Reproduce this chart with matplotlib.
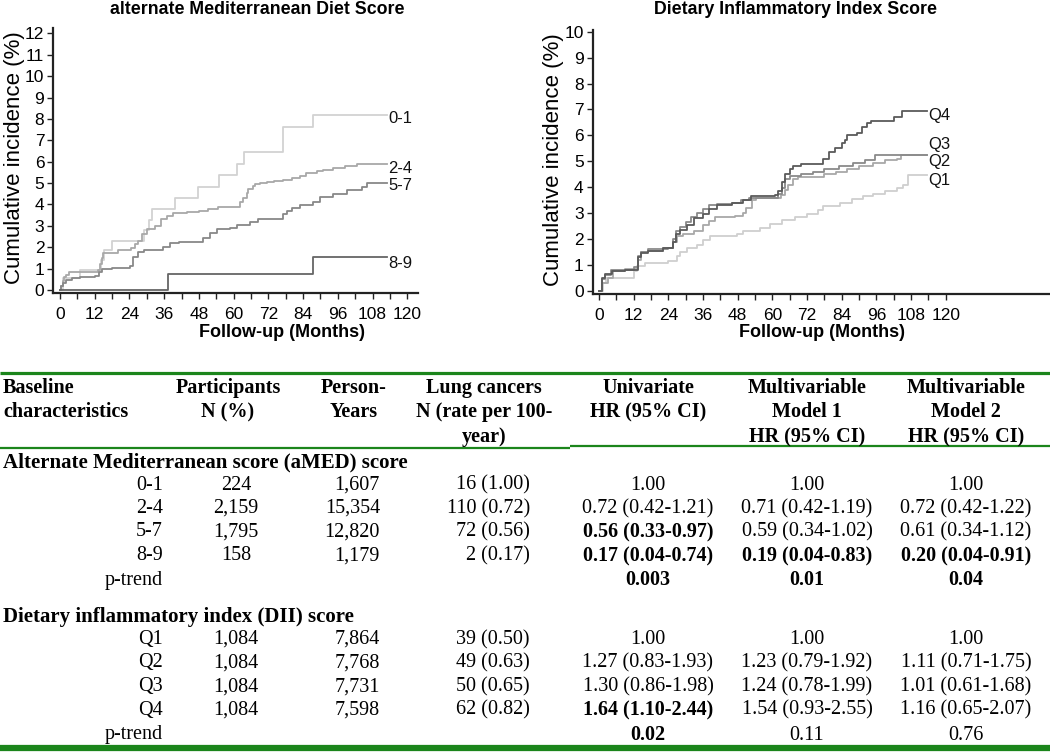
import matplotlib
matplotlib.use('Agg')
import matplotlib.pyplot as plt
from matplotlib.lines import Line2D
from matplotlib.ticker import FixedLocator

# ---------------- data: cumulative incidence curves ----------------
amed_groups = ['0-1', '2-4', '5-7', '8-9']
t_amed_01 = [0, 1, 6.9, 14.2, 15.2, 17.9, 29.1, 30.8, 31.9, 39.7, 47.6, 54.9, 61.2, 63.7, 76.9, 87.3]
v_amed_01 = [0, 0.55, 0.93, 1.4, 1.87, 2.3, 2.8, 3.27, 3.77, 4.29, 4.83, 5.36, 5.89, 6.45, 7.6, 8.18]
t_amed_24 = [0, 0.5, 1, 1.5, 2, 3, 13, 14, 14.5, 15, 20, 24.5, 26, 27, 28.5, 30, 33, 35, 37, 39, 44, 48,
             51, 54.7, 62.2, 63.3, 64.5, 65.1, 66.8, 67.4, 69.1, 71.4, 74, 77.2, 80, 82.9, 85, 88.7, 91,
             94.4, 98.5, 102.5]
v_amed_24 = [0, 0.2, 0.4, 0.6, 0.7, 0.85, 0.95, 1.2, 1.5, 1.75, 1.85, 1.95, 2.15, 2.3, 2.6, 2.85, 3.0,
             3.3, 3.45, 3.6, 3.65, 3.7, 3.8, 3.9, 4.1, 4.3, 4.55, 4.7, 4.85, 4.95, 5.0, 5.05, 5.1, 5.14,
             5.25, 5.35, 5.45, 5.55, 5.6, 5.7, 5.8, 5.9]
t_amed_57 = [0, 0.5, 1, 2, 4, 7, 12, 13.5, 14.5, 18, 24.2, 25.4, 27.1, 29, 35.7, 38, 41, 49.5, 51.8,
             54.1, 58.7, 61, 65.6, 68.5, 77.2, 78.5, 80.1, 82.9, 87.5, 89.8, 94.4, 99.1, 104.2, 106]
v_amed_57 = [0, 0.2, 0.35, 0.45, 0.55, 0.6, 0.65, 0.85, 1.0, 1.05, 1.1, 1.56, 1.8, 1.87, 2.02, 2.18,
             2.25, 2.42, 2.65, 2.84, 2.92, 3.04, 3.2, 3.33, 3.55, 3.7, 3.82, 3.97, 4.13, 4.36, 4.5, 4.66,
             4.83, 5.02]
t_amed_89 = [0, 37.2, 87.5]
v_amed_89 = [0, 0.75, 1.56]
amed_end = 113.0

dii_groups = ['Q1', 'Q2', 'Q3', 'Q4']
t_dii_q1 = [0, 1.5, 2.5, 12, 13, 16, 24, 26.9, 28, 30.3, 33.8, 36.1, 38.4, 47.7, 50, 55.7, 59.2, 63.2,
            67.8, 72, 75.9, 77.6, 83.4, 87.4, 91.5, 94.9, 99, 103.1, 105.3, 107.1]
v_dii_q1 = [0, 0.3, 0.51, 0.75, 0.95, 1.06, 1.15, 1.35, 1.5, 1.65, 1.75, 1.95, 2.1, 2.2, 2.3, 2.42,
            2.58, 2.72, 2.85, 2.98, 3.1, 3.28, 3.4, 3.55, 3.65, 3.72, 3.85, 3.96, 4.1, 4.47]
t_dii_q2 = [0, 1, 3, 5, 9, 13.5, 14.5, 17, 22, 25.5, 27, 29, 33, 36, 38, 40, 47, 50, 51, 53, 54.5, 63,
            64.5, 65.5, 67, 69, 78, 82, 86, 90, 95, 99, 103, 104.5]
v_dii_q2 = [0, 0.3, 0.5, 0.75, 0.85, 1.2, 1.5, 1.55, 1.65, 1.9, 2.1, 2.2, 2.3, 2.55, 2.7, 2.85, 2.9,
            3.0, 3.2, 3.5, 3.6, 3.7, 3.9, 4.1, 4.3, 4.4, 4.5, 4.6, 4.7, 4.8, 4.95, 5.05, 5.1, 5.24]
t_dii_q3 = [0, 1, 2, 4, 12, 13.5, 14.5, 17, 24, 25.5, 26.5, 28, 30, 32, 34, 36, 38, 41, 46, 49, 52, 62,
            63.5, 64.5, 66, 70, 74, 78, 83, 88, 92, 95.5]
v_dii_q3 = [0, 0.45, 0.6, 0.8, 0.9, 1.35, 1.5, 1.6, 1.65, 2.0, 2.3, 2.45, 2.65, 2.85, 3.0, 3.15, 3.3,
            3.35, 3.4, 3.5, 3.6, 3.75, 3.95, 4.3, 4.45, 4.5, 4.6, 4.7, 4.8, 4.95, 5.05, 5.24]
t_dii_q4 = [0, 1, 2, 4.5, 9, 13.5, 14.5, 17, 22, 25.5, 26.5, 28, 30.5, 33, 36, 38, 41, 46, 50, 52.5,
            61, 62, 63.5, 64.5, 66, 67, 70, 77.6, 79.5, 81.6, 84, 85, 85.9, 89.4, 91.2, 92.9, 94.1,
            102, 104.8]
v_dii_q4 = [0, 0.5, 0.65, 0.75, 0.8, 1.3, 1.45, 1.55, 1.65, 1.9, 2.2, 2.35, 2.55, 2.8, 2.95, 3.15, 3.3,
            3.4, 3.5, 3.65, 3.7, 3.85, 4.2, 4.5, 4.72, 4.8, 4.89, 5.1, 5.34, 5.5, 5.7, 5.82, 6.02, 6.1,
            6.33, 6.49, 6.56, 6.72, 6.95]
dii_end = 113.4

x_ticks = [0, 12, 24, 36, 48, 60, 72, 84, 96, 108, 120]

# ---------------- data: table ----------------
header_cols = [
    ['Baseline', 'characteristics'],
    ['Participants', 'N (%)'],
    ['Person-', 'Years'],
    ['Lung cancers', 'N (rate per 100-', 'year)'],
    ['Univariate', 'HR (95% CI)'],
    ['Multivariable', 'Model 1', 'HR (95% CI)'],
    ['Multivariable', 'Model 2', 'HR (95% CI)'],
]
amed_title = 'Alternate Mediterranean score (aMED) score'
amed_rows = ['0-1', '2-4', '5-7', '8-9']
amed_participants = ['224', '2,159', '1,795', '158']
amed_person_years = ['1,607', '15,354', '12,820', '1,179']
amed_cancers = ['16 (1.00)', '110 (0.72)', '72 (0.56)', '2 (0.17)']
amed_univ = ['1.00', '0.72 (0.42-1.21)', '0.56 (0.33-0.97)', '0.17 (0.04-0.74)']
amed_m1 = ['1.00', '0.71 (0.42-1.19)', '0.59 (0.34-1.02)', '0.19 (0.04-0.83)']
amed_m2 = ['1.00', '0.72 (0.42-1.22)', '0.61 (0.34-1.12)', '0.20 (0.04-0.91)']
amed_bold = [[False, False, False], [False, False, False], [True, False, False], [True, True, True]]
amed_ptrend = ['0.003', '0.01', '0.04']
amed_ptrend_bold = [True, True, True]

dii_title = 'Dietary inflammatory index (DII) score'
dii_rows = ['Q1', 'Q2', 'Q3', 'Q4']
dii_participants = ['1,084', '1,084', '1,084', '1,084']
dii_person_years = ['7,864', '7,768', '7,731', '7,598']
dii_cancers = ['39 (0.50)', '49 (0.63)', '50 (0.65)', '62 (0.82)']
dii_univ = ['1.00', '1.27 (0.83-1.93)', '1.30 (0.86-1.98)', '1.64 (1.10-2.44)']
dii_m1 = ['1.00', '1.23 (0.79-1.92)', '1.24 (0.78-1.99)', '1.54 (0.93-2.55)']
dii_m2 = ['1.00', '1.11 (0.71-1.75)', '1.01 (0.61-1.68)', '1.16 (0.65-2.07)']
dii_bold = [[False, False, False], [False, False, False], [False, False, False], [True, False, False]]
dii_ptrend = ['0.02', '0.11', '0.76']
dii_ptrend_bold = [True, False, False]

# ---------------- layout helpers ----------------
W, H = 1050, 752
fig = plt.figure(figsize=(W / 100, H / 100), dpi=100)
fig.patch.set_facecolor('white')


def fx(x):
    return x / W


def fy(y):
    return 1 - y / H


SANS = 'Liberation Sans'
SERIF = 'Liberation Serif'


def make_axes(left, right, top, bottom, xlim, ylim, yticks, xticks_minor):
    ax = fig.add_axes([fx(left), fy(bottom), (right - left) / W, (bottom - top) / H])
    ax.set_xlim(*xlim)
    ax.set_ylim(*ylim)
    for s in ['top', 'right']:
        ax.spines[s].set_visible(False)
    for s in ['left', 'bottom']:
        ax.spines[s].set_linewidth(1.6)
        ax.spines[s].set_color('#222222')
    ax.set_xticks(x_ticks)
    ax.xaxis.set_minor_locator(FixedLocator(xticks_minor))
    ax.set_yticks(yticks)
    ax.tick_params(axis='both', which='both', direction='out', length=4, width=1, color='#222222')
    ax.tick_params(axis='x', which='major', labelsize=12.5, pad=6)
    ax.tick_params(axis='y', which='major', labelsize=12.5, pad=2.5)
    for lab in ax.get_xticklabels() + ax.get_yticklabels():
        lab.set_fontfamily(SANS)
    ax.set_facecolor('white')
    return ax


def draw_step(ax, t, v, end, color):
    ax.step(list(t) + [end], list(v) + [v[-1]], where='post', color=color, lw=1.3)


# ---------------- left plot ----------------
axL = make_axes(53.3, 418, 28, 293.3, (-2.3, 123.7), (-0.154, 12.25), list(range(0, 13)),
                [6 + 12 * i for i in range(10)])
amed_series = [(t_amed_01, v_amed_01), (t_amed_24, v_amed_24), (t_amed_57, v_amed_57), (t_amed_89, v_amed_89)]
amed_colors = ['#d2d2d2', '#a8a8a8', '#888888', '#666666']
amed_label_y = [8.03, 5.7, 4.9, 1.25]
for (t, v), c, g, ly in zip(amed_series, amed_colors, amed_groups, amed_label_y):
    draw_step(axL, t, v, amed_end, c)
    axL.text(amed_end + 0.4, ly, g, fontsize=12, family=SANS, va='center', ha='left', color='#111111')

# ---------------- right plot ----------------
axR = make_axes(592.7, 1050, 30, 294, (-2.18, 156.1), (-0.127, 10.07), list(range(0, 11)),
                [6 + 12 * i for i in range(10)])
dii_series = [(t_dii_q1, v_dii_q1), (t_dii_q2, v_dii_q2), (t_dii_q3, v_dii_q3), (t_dii_q4, v_dii_q4)]
dii_colors = ['#cfcfcf', '#a8a8a8', '#8a8a8a', '#5a5a5a']
dii_label_y = [4.27, 5.0, 5.66, 6.78]
for (t, v), c, g, ly in zip(dii_series, dii_colors, dii_groups, dii_label_y):
    draw_step(axR, t, v, dii_end, c)
    axR.text(dii_end + 0.6, ly, g, fontsize=12, family=SANS, va='center', ha='left', color='#111111')

# titles and axis labels
fig.text(fx(257), fy(9), 'alternate Mediterranean Diet Score', family=SANS, fontsize=12.8,
         fontweight='bold', ha='center', va='center')
fig.text(fx(795), fy(9), 'Dietary Inflammatory Index Score', family=SANS, fontsize=12.8,
         fontweight='bold', ha='center', va='center')
for xc in (282, 822):
    fig.text(fx(xc), fy(333), 'Follow-up (Months)', family=SANS, fontsize=13, fontweight='bold',
             ha='center', va='center')
fig.text(fx(15), fy(158), 'Cumulative incidence (%)', family=SANS, fontsize=16, rotation=90,
         ha='center', va='center')
fig.text(fx(553), fy(160), 'Cumulative incidence (%)', family=SANS, fontsize=16, rotation=90,
         ha='center', va='center')

# ---------------- table ----------------
GREEN = '#1b851b'


def hline(x0, x1, y, lw):
    fig.add_artist(Line2D([fx(x0), fx(x1)], [fy(y), fy(y)], transform=fig.transFigure,
                          color=GREEN, lw=lw, solid_capstyle='butt'))


hline(0, 1050, 373, 2.3)
hline(0, 570, 447.5, 1.6)
hline(570, 1050, 446, 1.6)
hline(0, 1050, 747.5, 4.5)

FS = 14.5
col_x = [3, 228, 354, 484, 648, 807, 966]
col_ha = ['left', 'center', 'center', 'center', 'center', 'center', 'center']
header_y = [388, 412, 437]
for lines, xc, ha in zip(header_cols, col_x, col_ha):
    for ln, yy in zip(lines, header_y):
        fig.text(fx(xc), fy(yy), ln, family=SERIF, fontsize=FS, fontweight='bold', ha=ha, va='center')


def txt(x, y, s, ha, bold=False, size=FS):
    fig.text(fx(x), fy(y), s, family=SERIF, fontsize=size, fontweight='bold' if bold else 'normal',
             ha=ha, va='center')


def section(title, y_title, rows, part, py, canc, univ, m1, m2, bold, ptrend, pbold, row_y, p_y):
    txt(3, y_title, title, 'left', bold=True, size=15)
    for i, yy in enumerate(row_y):
        txt(163, yy, rows[i], 'right')
        txt(236, yy, part[i], 'center')
        txt(380, yy, py[i], 'right')
        txt(530, yy, canc[i], 'right')
        txt(648, yy, univ[i], 'center', bold[i][0])
        txt(807, yy, m1[i], 'center', bold[i][1])
        txt(966, yy, m2[i], 'center', bold[i][2])
    txt(163, p_y, 'p-trend', 'right')
    for xv, s, b in zip([648, 807, 966], ptrend, pbold):
        txt(xv, p_y, s, 'center', b)


section(amed_title, 462, amed_rows, amed_participants, amed_person_years, amed_cancers,
        amed_univ, amed_m1, amed_m2, amed_bold, amed_ptrend, amed_ptrend_bold,
        [485, 508.5, 532, 556], 580)
section(dii_title, 617, dii_rows, dii_participants, dii_person_years, dii_cancers,
        dii_univ, dii_m1, dii_m2, dii_bold, dii_ptrend, dii_ptrend_bold,
        [639.5, 663, 687, 710], 735)

fig.savefig('out.png', dpi=100, facecolor='white')
